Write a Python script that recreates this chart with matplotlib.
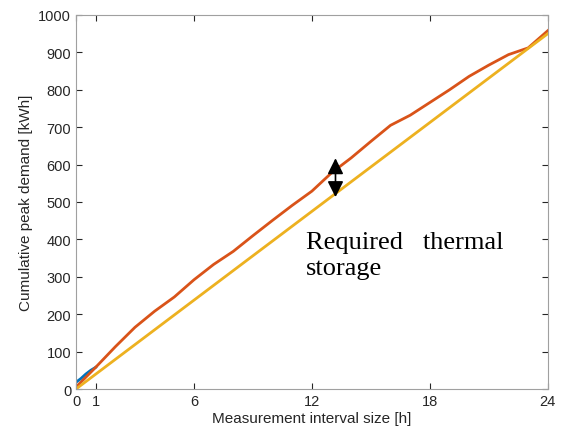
import numpy as np
import matplotlib.pyplot as plt

# interval size [h] and cumulative peak demand [kWh]
hours = [0, 1, 2, 3, 4, 5, 6, 7, 8, 9, 10, 11, 12,
         13, 14, 15, 16, 17, 18, 19, 20, 21, 22, 23, 24]
peak = [5, 58, 113, 165, 208, 246, 292, 333, 368, 410, 451, 491, 529,
        578, 618, 662, 705, 732, 766, 800, 836, 866, 894, 912, 958]

sub_hours = [0, 0.25, 0.5, 0.75, 1]
sub_peak = [18, 28, 40, 50, 58]

lin_hours = [0, 24]
lin_peak = [0, 950]

xticks = [0, 1, 6, 12, 18, 24]

fig = plt.figure(figsize=(5.63, 4.39), dpi=100)
ax = fig.add_axes([0.135, 0.1116, 0.838, 0.852])

ax.plot(sub_hours, sub_peak, color="#0072BD", lw=2)
ax.plot(hours, peak, color="#D95319", lw=2)
ax.plot(lin_hours, lin_peak, color="#EDB120", lw=2)

ax.annotate("", xy=(13.2, 513), xytext=(13.2, 617),
            arrowprops=dict(arrowstyle="<|-|>", color="black", lw=1.2,
                            mutation_scale=24, shrinkA=0, shrinkB=0))
ax.text(11.7, 422, "Required   thermal\nstorage", family="Liberation Serif",
        fontsize=19, va="top", ha="left", linespacing=1.25)

ax.set_xlim(0, 24)
ax.set_ylim(0, 1000)
ax.set_xticks(xticks)
ax.set_yticks(np.arange(0, 1001, 100))
ax.tick_params(direction="in", top=True, right=True, colors="#262626",
               labelsize=10.5, length=4)
for s in ax.spines.values():
    s.set_color("#a0a0a0")
for lab in ax.get_xticklabels() + ax.get_yticklabels():
    lab.set_family("Liberation Sans")
ax.set_xlabel("Measurement interval size [h]", family="Liberation Sans",
              fontsize=11, color="#262626", labelpad=2)
ax.set_ylabel("Cumulative peak demand [kWh]", family="Liberation Sans",
              fontsize=11, color="#262626", labelpad=4)

fig.savefig("out.png", dpi=100)
